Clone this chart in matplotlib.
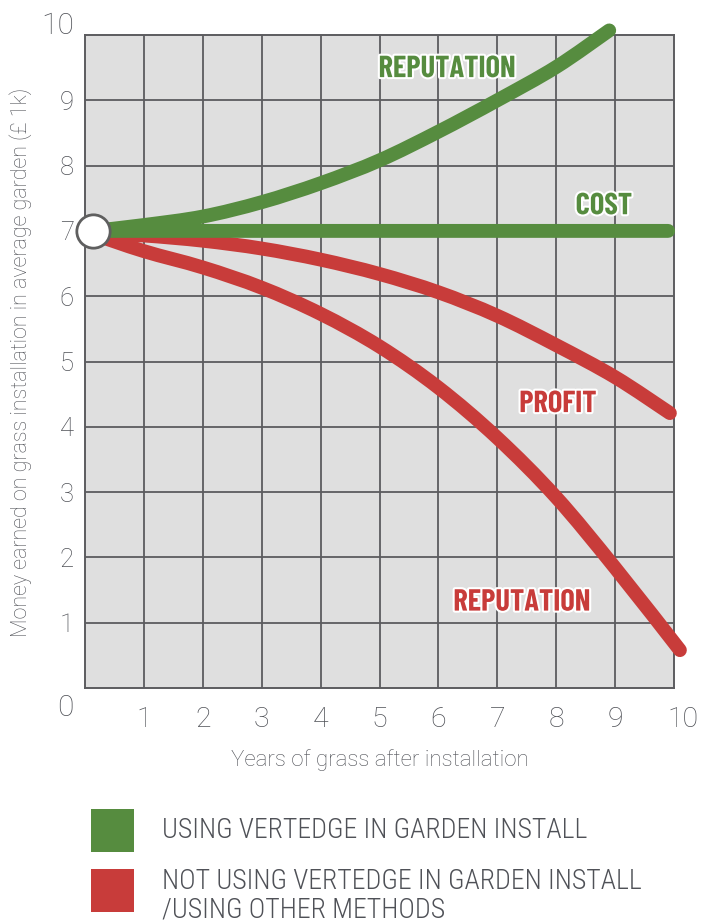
import matplotlib
matplotlib.use("Agg")
import matplotlib.pyplot as plt
import matplotlib.patheffects as pe
import matplotlib.transforms as mtrans
from matplotlib.patches import Rectangle, PathPatch
from matplotlib.path import Path

# ---------------- data ----------------
green_rep_x = [0.14, 1, 2, 3, 4, 5, 6, 7, 8, 8.9]
green_rep_y = [7.0, 7.09, 7.22, 7.44, 7.73, 8.08, 8.52, 9.0, 9.51, 10.07]

cost_x = [0.14, 9.9]
cost_y = [7.0, 7.0]

profit_x = [0.14, 1, 2, 3, 4, 5, 6, 7, 8, 9, 9.93]
profit_y = [6.97, 6.93, 6.85, 6.73, 6.56, 6.34, 6.06, 5.70, 5.25, 4.76, 4.21]

red_rep_x = [0.14, 1, 2, 3, 4, 5, 6, 7, 8, 9, 10.1]
red_rep_y = [6.95, 6.69, 6.44, 6.13, 5.73, 5.23, 4.6, 3.83, 2.92, 1.84, 0.58]

start_point = (0.14, 7.0)

x_ticks = [1, 2, 3, 4, 5, 6, 7, 8, 9, 10]
y_ticks = [0, 1, 2, 3, 4, 5, 6, 7, 8, 9, 10]

curve_labels = ["REPUTATION", "COST", "PROFIT", "REPUTATION"]
curve_label_pos = [(6.15, 9.47), (8.81, 7.37), (8.03, 4.34), (7.42, 1.30)]

legend_labels = ["USING VERTEDGE IN GARDEN INSTALL",
                 "NOT USING VERTEDGE IN GARDEN INSTALL\n/USING OTHER METHODS"]

x_label = "Years of grass after installation"
y_label = "Money earned on grass installation in average garden (£ 1k)"

# ---------------- style ----------------
GREEN = "#568c3f"
RED = "#c83c3a"
GRID = "#5c5c5f"
BG = "#dfdfdf"
TXT = "#4f5157"

W, H = 703, 923
fig = plt.figure(figsize=(W / 100, H / 100), dpi=100)
ax = fig.add_axes([85 / W, 1 - 688 / H, 589 / W, 653 / H])
ax.set_facecolor(BG)
ax.set_xlim(0, 10)
ax.set_ylim(0, 10)

for s in ax.spines.values():
    s.set_color(GRID)
    s.set_linewidth(1.4)

for v in range(1, 10):
    ax.axvline(v, color=GRID, lw=1.3, zorder=1)
    ax.axhline(v, color=GRID, lw=1.3, zorder=1)


def smooth_path(xs, ys):
    """Cubic Bezier path passing through every data point (Catmull-Rom tangents)."""
    pts = list(zip(xs, ys))
    n = len(pts)
    verts = [pts[0]]
    codes = [Path.MOVETO]
    for i in range(n - 1):
        p0 = pts[i - 1] if i > 0 else pts[i]
        p1 = pts[i]
        p2 = pts[i + 1]
        p3 = pts[i + 2] if i + 2 < n else pts[i + 1]
        c1 = (p1[0] + (p2[0] - p0[0]) / 6, p1[1] + (p2[1] - p0[1]) / 6)
        c2 = (p2[0] - (p3[0] - p1[0]) / 6, p2[1] - (p3[1] - p1[1]) / 6)
        verts += [c1, c2, p2]
        codes += [Path.CURVE4] * 3
    return Path(verts, codes)


lw = 10
for xs, ys, c, z in [(red_rep_x, red_rep_y, RED, 3), (profit_x, profit_y, RED, 3),
                     (cost_x, cost_y, GREEN, 4), (green_rep_x, green_rep_y, GREEN, 4)]:
    patch = PathPatch(smooth_path(xs, ys), facecolor="none", edgecolor=c, lw=lw,
                      capstyle="round", joinstyle="round", zorder=z, clip_on=False)
    ax.add_patch(patch)

ax.plot([start_point[0]], [start_point[1]], marker="o", ms=24, mfc="white",
        mec="#5f5f5f", mew=2, zorder=6, clip_on=False)

label_colors = [GREEN, GREEN, RED, RED]
for txt, (lx, ly), c in zip(curve_labels, curve_label_pos, label_colors):
    ax.text(lx, ly, txt, color=c, family="Barlow Condensed", fontweight="bold",
            fontsize=22, ha="center", va="center", zorder=7,
            path_effects=[pe.withStroke(linewidth=3, foreground="white")])

# ticks
ax.set_xticks(x_ticks)
ax.set_xticklabels([str(t) for t in x_ticks])
ax.set_yticks(y_ticks)
ax.set_yticklabels([str(t) for t in y_ticks])
ax.tick_params(axis="both", length=0, colors=TXT)
ax.tick_params(axis="x", pad=13)
ax.tick_params(axis="y", pad=8)
for lab in ax.get_xticklabels():
    lab.set_family("Roboto")
    lab.set_fontweight("light")
    lab.set_fontsize(20.5)
for lab in ax.get_yticklabels():
    lab.set_family("Roboto")
    lab.set_fontweight("light")
    lab.set_fontsize(18.5)
ylabs = ax.get_yticklabels()
ylabs[0].set_fontsize(21.5)
ylabs[-1].set_fontsize(21.5)
ylabs[0].set_transform(ylabs[0].get_transform() + mtrans.ScaledTranslation(0, -0.17, fig.dpi_scale_trans))
ylabs[-1].set_transform(ylabs[-1].get_transform() + mtrans.ScaledTranslation(0, 0.125, fig.dpi_scale_trans))
xlabs = ax.get_xticklabels()
xlabs[-1].set_transform(xlabs[-1].get_transform() + mtrans.ScaledTranslation(0.09, 0, fig.dpi_scale_trans))

# axis titles
fig.text(380 / W, 1 - 760 / H, x_label, family="Roboto", fontweight="light",
         fontsize=16, color=TXT, ha="center", va="center")
fig.text(21 / W, 1 - 362 / H, y_label, family="Roboto", fontweight="light",
         fontsize=15.5, color=TXT, ha="center", va="center", rotation=90)

# legend
sq_colors = [GREEN, RED]
sq_top = [809, 869]
txt_y = [831, 896]
for c, top, ty, lab in zip(sq_colors, sq_top, txt_y, legend_labels):
    fig.add_artist(Rectangle((91 / W, 1 - (top + 43) / H), 43 / W, 43 / H,
                             transform=fig.transFigure, color=c, lw=0))
    fig.text(162 / W, 1 - ty / H, lab, family="Roboto Condensed", fontweight="light",
             fontsize=20, color=TXT, ha="left", va="center", linespacing=1.05)

fig.savefig("out.png", dpi=100)
